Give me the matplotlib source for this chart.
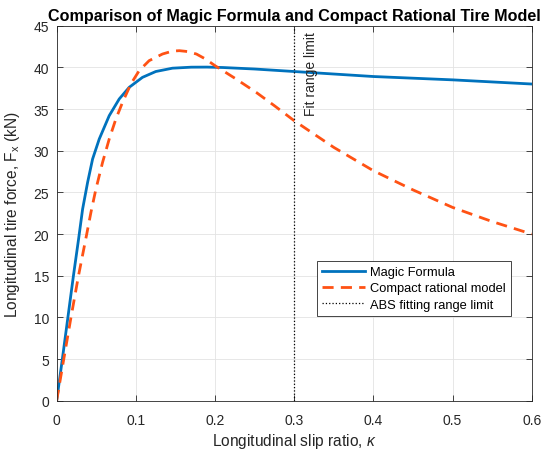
import matplotlib
matplotlib.use("Agg")
import matplotlib.pyplot as plt

plt.rcParams['font.family'] = ['Liberation Sans', 'DejaVu Sans']
plt.rcParams['mathtext.fontset'] = 'custom'
plt.rcParams['mathtext.rm'] = 'Liberation Sans'
plt.rcParams['mathtext.it'] = 'Liberation Sans:italic'

# Magic Formula curve
mf_kappa = [0, 0.0072, 0.0142, 0.0212, 0.0277, 0.0328, 0.0391, 0.0454, 0.0538,
            0.0664, 0.079, 0.0916, 0.1084, 0.1252, 0.1463, 0.17, 0.19, 0.21,
            0.25, 0.3, 0.35, 0.4, 0.45, 0.5, 0.55, 0.6]
mf_force = [0, 5.0, 10.0, 15.0, 19.4, 23.0, 26.2, 29.0, 31.4,
            34.2, 36.2, 37.6, 38.8, 39.5, 39.9, 40.02, 40.03, 39.98,
            39.8, 39.5, 39.2, 38.9, 38.7, 38.5, 38.25, 38.0]

# Compact rational model curve
cr_kappa = [0, 0.009, 0.0181, 0.0276, 0.038, 0.0433, 0.0496, 0.058, 0.0664,
            0.0748, 0.0832, 0.0937, 0.1042, 0.1168, 0.1337, 0.1463, 0.155,
            0.165, 0.1765, 0.188, 0.2, 0.225, 0.252, 0.275, 0.3, 0.35, 0.4,
            0.45, 0.5, 0.55, 0.6]
cr_force = [0, 5.0, 10.0, 15.0, 20.0, 22.6, 25.4, 28.6, 31.4,
            33.8, 35.8, 38.0, 39.6, 40.8, 41.6, 41.95, 42.0,
            41.9, 41.6, 41.0, 40.2, 38.7, 37.0, 35.4, 33.6, 30.4, 27.6,
            25.3, 23.2, 21.5, 20.0]

fit_limit = 0.3

blue = '#0072BD'
orange = '#FF5214'
dark = '#262626'

fig = plt.figure(figsize=(5.5, 4.56), dpi=100)
ax = fig.add_axes([0.103, 0.119, 0.8637, 0.8225])

ax.plot(mf_kappa, mf_force, color=blue, lw=2.0, label='Magic Formula')
ax.plot(cr_kappa, cr_force, color=orange, lw=2.0, ls=(0, (4, 2.6)),
        label='Compact rational model')
ax.axvline(fit_limit, color='black', lw=0.9, ls=':', label='ABS fitting range limit')
ax.text(fit_limit + 0.012, 44.3, 'Fit range limit', rotation=90, ha='left', va='top',
        fontsize=10, color=dark)

ax.set_xlim(0, 0.6)
ax.set_ylim(0, 45)
ax.set_xticks([0, 0.1, 0.2, 0.3, 0.4, 0.5, 0.6])
ax.set_xticklabels(['0', '0.1', '0.2', '0.3', '0.4', '0.5', '0.6'])
ax.set_yticks(range(0, 46, 5))

ax.grid(True, color='#e3e3e3', lw=0.6)
ax.set_axisbelow(True)
for s in ax.spines.values():
    s.set_color(dark)
    s.set_linewidth(0.6)
ax.tick_params(direction='in', top=True, right=True, length=4, width=0.6,
               colors=dark, labelsize=10)
ax.tick_params(axis='x', pad=8.5)
ax.tick_params(axis='y', pad=5.5)

ax.set_xlabel('Longitudinal slip ratio, $\\mathit{\\kappa}$', fontsize=11.2, color=dark,
              labelpad=3)
ax.set_ylabel('Longitudinal tire force, F$_{\\mathregular{x}}$ (kN)', fontsize=11.2,
              color=dark, labelpad=8)
ax.set_title('Comparison of Magic Formula and Compact Rational Tire Model',
             fontsize=11.6, fontweight='bold', pad=4)

leg = ax.legend(loc='upper left', bbox_to_anchor=(0.548, 0.3725), fontsize=9.3,
                fancybox=False, framealpha=1, edgecolor=dark, handlelength=3.3,
                borderpad=0.4, labelspacing=0.32, handletextpad=0.4, borderaxespad=0)
leg.get_frame().set_linewidth(0.6)

fig.savefig('out.png', dpi=100)
